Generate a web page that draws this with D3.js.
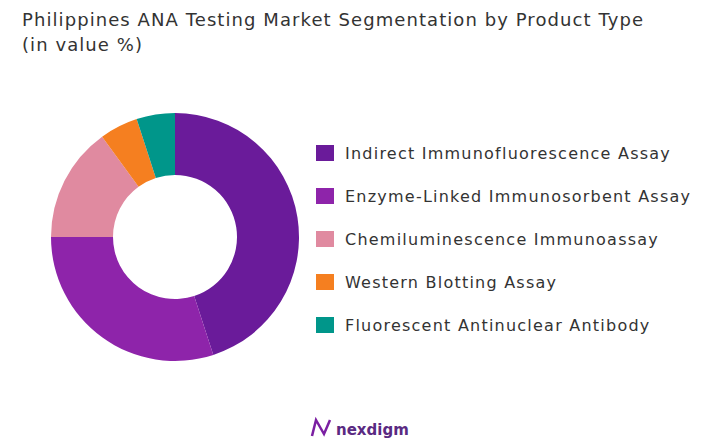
<!DOCTYPE html><html><head><meta charset="utf-8"><script src="https://cdn.jsdelivr.net/npm/d3@7"></script>
<style>body{margin:0;background:#fff}</style></head><body><svg id="c" width="727" height="447"></svg>
<script>
const categories=["Indirect Immunofluorescence Assay","Enzyme-Linked Immunosorbent Assay","Chemiluminescence Immunoassay","Western Blotting Assay","Fluorescent Antinuclear Antibody"];
const values=[45,30,15,5,5];
const colors=["#6a1b9a","#8e24aa","#e08aa0","#f57f20","#00968a"];
const svg=d3.select("#c");
const f="'DejaVu Sans', sans-serif";
const t1=svg.append("text").attr("x",22).attr("y",26).attr("font-family",f).attr("font-size",18).attr("fill","#333").text("Philippines ANA Testing Market Segmentation by Product Type");
svg.append("text").attr("x",22).attr("y",51).attr("font-family",f).attr("font-size",18).attr("fill","#333").text("(in value %)");
const w=t1.node().getComputedTextLength(); const ls=(621-w)/58;
svg.selectAll("text").attr("letter-spacing",ls);
const pie=d3.pie().sort(null).value(d=>d);
const arc=d3.arc().innerRadius(62).outerRadius(124);
const g=svg.append("g").attr("transform","translate(175,237)");
g.selectAll("path").data(pie(values)).join("path").attr("d",arc).attr("fill",(d,i)=>colors[i]);
const lg=svg.append("g");
categories.forEach((c,i)=>{const y=153+i*43;
lg.append("rect").attr("x",316).attr("y",y-8).attr("width",18).attr("height",16).attr("fill",colors[i]);
const t=lg.append("text").attr("x",345).attr("y",y+6).attr("font-family",f).attr("font-size",16).attr("fill","#333").text(c);
if(i==1){const w2=t.node().getComputedTextLength();lg.selectAll("text").attr("letter-spacing",(345-345+345)/345*0+ (345>0?(690-345-w2)/32:0));}
});
lg.selectAll("text").attr("letter-spacing",function(){return lg.select("text:nth-of-type(2)").attr("letter-spacing")});
const lx=312,ly=430;
svg.append("path").attr("d",`M${lx},${ly+6} L${lx+4},${ly-10} L${lx+12},${ly+4} L${lx+18},${ly-10}`).attr("fill","none").attr("stroke","#7b1fa2").attr("stroke-width",2.5);
svg.append("text").attr("x",lx+24).attr("y",ly+5).attr("font-family",f).attr("font-size",15).attr("font-weight","bold").attr("fill","#5a2a82").text("nexdigm");
</script></body></html>
